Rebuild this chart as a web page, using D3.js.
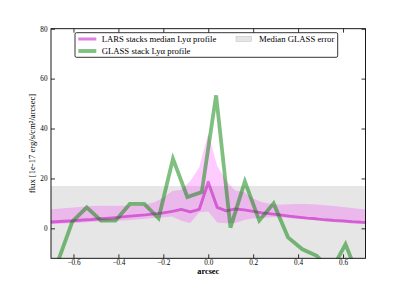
<!DOCTYPE html>
<html><head><meta charset="utf-8">
<script src="https://cdn.jsdelivr.net/npm/d3@7/dist/d3.min.js"></script>
<style>
html,body{margin:0;padding:0;background:#fff;}
svg text{font-family:"Liberation Serif","DejaVu Serif",serif;fill:#000;}
</style></head>
<body><svg id="c" width="407" height="287"></svg>
<script>
// LARS stack grid (arcsec)
const larsX = [-0.72,-0.68,-0.64,-0.60,-0.56,-0.52,-0.48,-0.44,-0.40,-0.36,-0.32,-0.28,-0.24,-0.20,-0.16,-0.12,-0.08,-0.04,0.00,0.04,0.08,0.12,0.16,0.20,0.24,0.28,0.32,0.36,0.40,0.44,0.48,0.52,0.56,0.60,0.64,0.68,0.72];
const larsMedian = [2.4,2.6,2.8,3.0,3.3,3.5,3.8,4.1,4.4,4.8,5.1,5.4,5.8,6.2,6.8,7.6,6.6,7.6,18.5,8.4,7.0,7.8,7.4,6.8,6.2,5.8,5.4,4.9,4.5,4.1,3.8,3.4,3.1,2.9,2.6,2.4,2.3];
const larsUpper = [7.5,7.8,8.1,8.4,8.7,9.0,9.1,9.1,9.1,9.1,9.2,9.6,10.5,12.3,15.0,15.5,19.0,24.5,38.0,25.0,19.0,15.2,14.5,12.0,10.5,9.8,9.5,9.7,9.8,9.8,9.6,9.3,9.0,8.6,8.2,7.8,7.5];
const larsLower = [1.5,1.7,1.9,2.1,2.3,2.5,2.7,2.9,3.0,3.2,3.5,3.8,4.1,4.4,4.7,3.0,2.1,6.5,6.8,2.3,2.0,2.1,3.3,3.9,4.2,4.4,4.4,4.0,3.7,3.5,3.2,3.0,2.7,2.5,2.2,2.0,1.8];
// GLASS stack
const glassX = [-0.669,-0.605,-0.541,-0.477,-0.413,-0.349,-0.285,-0.221,-0.157,-0.093,-0.029,0.035,0.099,0.163,0.227,0.291,0.355,0.419,0.483,0.547,0.611,0.675,0.739];
const glassFlux = [-13.2,2.7,8.4,3.1,3.1,9.8,9.8,4.0,27.9,12.5,14.5,53.3,0.3,18.8,3.1,10.0,-3.6,-8.4,-11.0,-17.0,-6.4,-20.8,-15.0];
const glassMedianError = 17;
const xTicks = [-0.6,-0.4,-0.2,0.0,0.2,0.4,0.6];
const yTicks = [0,20,40,60,80];
const xDomain = [-0.7,0.7];
const yDomain = [-12,80];

const svg = d3.select("#c");
const L=51, R=365.5, T=28.7, B=258.3;
const x = d3.scaleLinear().domain(xDomain).range([L,R]);
const y = d3.scaleLinear().domain(yDomain).range([B,T]);

svg.append("defs").append("clipPath").attr("id","clip")
  .append("rect").attr("x",L).attr("y",T).attr("width",R-L).attr("height",B-T);
const g = svg.append("g").attr("clip-path","url(#clip)");

// gray median error band
g.append("path")
  .datum(xDomain)
  .attr("d", d3.area().x(d=>x(d)).y0(y(-glassMedianError)).y1(y(glassMedianError)))
  .attr("fill","#808080").attr("fill-opacity",0.2);

const lars = larsX.map((d,i)=>({x:d,m:larsMedian[i],u:larsUpper[i],l:larsLower[i]}));
g.append("path").datum(lars)
  .attr("d", d3.area().x(d=>x(d.x)).y0(d=>y(d.l)).y1(d=>y(d.u)))
  .attr("fill","#ff00ff").attr("fill-opacity",0.2);
g.append("path").datum(lars)
  .attr("d", d3.line().x(d=>x(d.x)).y(d=>y(d.m)))
  .attr("fill","none").attr("stroke","#bf00bf").attr("stroke-opacity",0.5)
  .attr("stroke-width",3).attr("stroke-linejoin","round");

const glass = glassX.map((d,i)=>({x:d,f:glassFlux[i]}));
g.append("path").datum(glass)
  .attr("d", d3.line().x(d=>x(d.x)).y(d=>y(d.f)))
  .attr("fill","none").attr("stroke","#008000").attr("stroke-opacity",0.5)
  .attr("stroke-width",3.8).attr("stroke-linejoin","miter");

// axes (ticks inside, classic style)
const fmt = d => (d<0? "\u2212" : "") + Math.abs(d).toFixed(1);
const mk = (axis, tr) => {
  const a = svg.append("g").attr("transform",tr).call(axis);
  a.attr("font-family",null).attr("font-size",null);
  a.select(".domain").remove();
  a.selectAll("line").attr("stroke","#000").attr("stroke-width",0.8);
  a.selectAll("text").attr("font-size","7.2px").attr("fill","#000");
  return a;
};
mk(d3.axisBottom(x).tickValues(xTicks).tickSize(-4).tickPadding(2).tickFormat(fmt), `translate(0,${B})`);
mk(d3.axisTop(x).tickValues(xTicks).tickSize(-4).tickFormat(""), `translate(0,${T})`);
mk(d3.axisLeft(y).tickValues(yTicks).tickSize(-4).tickPadding(3.5).tickFormat(d3.format("d")), `translate(${L},0)`);
mk(d3.axisRight(y).tickValues(yTicks).tickSize(-4).tickFormat(""), `translate(${R},0)`);

svg.append("rect").attr("x",L).attr("y",T).attr("width",R-L).attr("height",B-T)
  .attr("fill","none").attr("stroke","#000").attr("stroke-width",0.9);

// labels
svg.append("text").attr("x",(L+R)/2).attr("y",274).attr("text-anchor","middle")
  .attr("font-size","8.3px").attr("font-weight","bold").text("arcsec");
svg.append("text").attr("transform",`translate(35,${(T+B)/2}) rotate(-90)`)
  .attr("text-anchor","middle").attr("font-size","8.6px")
  .text("flux [1e-17 erg/s/cm\u00B2/arcsec]");

// legend
const lg = svg.append("g");
lg.append("rect").attr("x",75).attr("y",32.7).attr("width",262.7).attr("height",24.6)
  .attr("rx",1.5).attr("fill","#fff").attr("stroke","#000").attr("stroke-width",0.8);
const items = [
  {t:"LARS stacks median Ly\u03B1 profile", c:"#bf00bf", w:3, lx:78.3, ly:39},
  {t:"GLASS stack Ly\u03B1 profile", c:"#008000", w:3.8, lx:78.3, ly:51}
];
items.forEach(it=>{
  lg.append("line").attr("x1",it.lx).attr("x2",it.lx+18).attr("y1",it.ly).attr("y2",it.ly)
    .attr("stroke",it.c).attr("stroke-opacity",0.5).attr("stroke-width",it.w);
  lg.append("text").attr("x",101.7).attr("y",it.ly+3).attr("font-size","8.7px").text(it.t);
});
lg.append("rect").attr("x",236).attr("y",36.4).attr("width",15.7).attr("height",5)
  .attr("fill","#808080").attr("fill-opacity",0.2).attr("stroke","#bbb").attr("stroke-width",0.5);
lg.append("text").attr("x",259).attr("y",42).attr("font-size","8.7px").text("Median GLASS error");
</script></body></html>
